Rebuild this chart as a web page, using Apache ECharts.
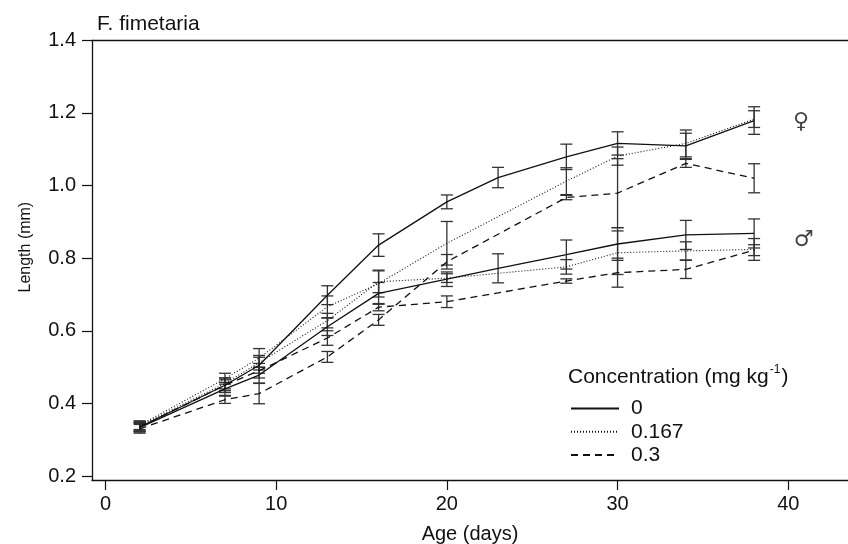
<!DOCTYPE html>
<html>
<head>
<meta charset="utf-8">
<script src="https://cdn.jsdelivr.net/npm/echarts@6/dist/echarts.min.js"></script>
<style>html,body{margin:0;padding:0;background:#fff}#c{width:848px;height:544px}</style>
</head>
<body>
<div id="c"></div>
<script>
// ---- data ----
const ages = [2, 7, 9, 13, 16, 20, 23, 27, 30, 34, 38];
// females
const f0      = [0.335, 0.45, 0.505, 0.698, 0.836, 0.955, 1.022, 1.079, 1.116, 1.109, 1.179];
const f0Err   = [0.012, 0.02, 0.022, 0.026, 0.031, 0.019, 0.028, 0.035, 0.032, 0.035, 0.038];
const f167    = [0.34, 0.468, 0.525, 0.666, 0.73, 0.841, null, 1.012, 1.081, 1.116, 1.183];
const f167Err = [0.012, 0.015, 0.026, 0.03, 0.037, 0.06, null, 0.037, 0.025, 0.037, 0.023];
const f3      = [0.33, 0.41, 0.427, 0.528, 0.63, 0.79, null, 0.967, 0.979, 1.061, 1.02];
const f3Err   = [0.012, 0.01, 0.028, 0.015, 0.015, 0.02, null, 0.006, 0.095, 0.011, 0.04];
// males
const m0      = [0.333, 0.44, 0.478, 0.611, 0.703, 0.742, 0.772, 0.81, 0.839, 0.864, 0.868];
const m0Err   = [0.012, 0.018, 0.022, 0.024, 0.03, 0.02, 0.04, 0.04, 0.045, 0.04, 0.04];
const m167    = [0.338, 0.455, 0.512, 0.628, 0.735, 0.745, null, 0.776, 0.815, 0.82, 0.824];
const m167Err = [0.012, 0.015, 0.02, 0.02, 0.03, 0.012, null, 0.02, 0.06, 0.025, 0.03];
const m3      = [0.335, 0.45, 0.49, 0.58, 0.665, 0.68, null, 0.737, 0.76, 0.769, 0.822];
const m3Err   = [0.012, 0.015, 0.02, 0.02, 0.01, 0.016, null, 0.006, 0.04, 0.025, 0.015];

const concentrations = ['0', '0.167', '0.3'];
const xTicks = [0, 10, 20, 30, 40];
const yTicks = [0.2, 0.4, 0.6, 0.8, 1.0, 1.2, 1.4];
const sexSymbols = ['♀', '♂'];
const sexX = [40.75, 40.9];
const sexY = [1.175, 0.85];

// ---- build chart ----
const FONT = 'Liberation Sans, Arial, Helvetica, sans-serif';
const INK = '#111';
const styles = {
  '0':     { type: 'solid', width: 1.3 },
  '0.167': { type: [1, 2], width: 1.1 },
  '0.3':   { type: [7, 5], width: 1.3 }
};

function pairs(vals) {
  const out = [];
  ages.forEach((a, i) => { if (vals[i] != null) out.push([a, vals[i]]); });
  return out;
}
function triples(vals, errs) {
  const out = [];
  ages.forEach((a, i) => { if (vals[i] != null) out.push([a, vals[i], errs[i]]); });
  return out;
}

function errorBarRender(params, api) {
  const x = api.value(0), v = api.value(1), e = api.value(2);
  const t = api.coord([x, v + e]);
  const b = api.coord([x, v - e]);
  const hw = 6;
  const st = { stroke: '#333', lineWidth: 1.3 };
  return {
    type: 'group',
    children: [
      { type: 'line', shape: { x1: t[0], y1: t[1], x2: b[0], y2: b[1] }, style: st },
      { type: 'line', shape: { x1: t[0] - hw, y1: t[1], x2: t[0] + hw, y2: t[1] }, style: st },
      { type: 'line', shape: { x1: b[0] - hw, y1: b[1], x2: b[0] + hw, y2: b[1] }, style: st }
    ]
  };
}

const groups = [
  { name: '0', v: f0, e: f0Err }, { name: '0.167', v: f167, e: f167Err }, { name: '0.3', v: f3, e: f3Err },
  { name: '0', v: m0, e: m0Err }, { name: '0.167', v: m167, e: m167Err }, { name: '0.3', v: m3, e: m3Err }
];

const series = [];
groups.forEach(g => {
  series.push({
    type: 'custom', renderItem: errorBarRender, data: triples(g.v, g.e),
    encode: { x: 0, y: [1] }, silent: true, z: 2
  });
});
groups.forEach(g => {
  series.push({
    type: 'line', name: g.name, data: pairs(g.v), symbol: 'none',
    lineStyle: { color: INK, type: styles[g.name].type, width: styles[g.name].width },
    itemStyle: { color: INK }, z: 3, animation: false
  });
});
series.push({
  type: 'scatter', symbolSize: 1, itemStyle: { color: 'rgba(0,0,0,0)' },
  data: sexSymbols.map((s, i) => ({ value: [sexX[i], sexY[i]], name: s })),
  label: { show: true, position: 'inside', formatter: p => p.name, fontSize: 22, color: INK, fontFamily: 'DejaVu Sans' },
  silent: true
});

const option = {
  animation: false,
  backgroundColor: '#fff',
  title: [
    { text: 'F. fimetaria', left: 92, top: 9, textStyle: { fontFamily: FONT, fontSize: 21, fontWeight: 'normal', color: INK } },
    {
      text: '{a|Concentration (mg kg}{s|-1}{a|)}', left: 563, top: 359,
      textStyle: {
        rich: {
          a: { fontFamily: FONT, fontSize: 21, fontWeight: 'normal', color: INK, lineHeight: 24, verticalAlign: 'bottom' },
          s: { fontFamily: FONT, fontSize: 12, fontWeight: 'normal', color: INK, lineHeight: 24, verticalAlign: 'top', padding: [0, 1, 0, 1] }
        }
      }
    }
  ],
  legend: {
    data: concentrations, orient: 'vertical', left: 565, top: 393,
    itemWidth: 48, itemHeight: 14, itemGap: 2.3,
    itemStyle: { opacity: 0 },
    textStyle: { fontFamily: FONT, fontSize: 21, color: INK, lineHeight: 20, padding: [0, 0, 0, 7] },
    selectedMode: false
  },
  grid: { left: 92, right: 0, top: 40.3, bottom: 64, outerBoundsMode: 'none', containLabel: false },
  xAxis: [{
    type: 'value', min: -0.79, max: 43.5,
    name: 'Age (days)', nameLocation: 'middle', nameGap: 44,
    nameTextStyle: { fontFamily: FONT, fontSize: 20, color: INK },
    axisLine: { show: true, onZero: false, lineStyle: { color: INK, width: 1.3 } },
    axisTick: { show: true, inside: false, length: 10, customValues: xTicks, lineStyle: { color: INK, width: 1.2 } },
    axisLabel: { customValues: xTicks, margin: 14, fontFamily: FONT, fontSize: 20, color: INK },
    splitLine: { show: false }
  }, {
    type: 'value', position: 'top', min: -0.79, max: 43.5,
    axisLine: { show: true, onZero: false, lineStyle: { color: INK, width: 1.3 } },
    axisTick: { show: false }, axisLabel: { show: false }, splitLine: { show: false }
  }],
  yAxis: {
    type: 'value', min: 0.189, max: 1.4,
    name: 'Length (mm)', nameLocation: 'middle', nameGap: 58,
    nameTextStyle: { fontFamily: FONT, fontSize: 16, color: INK, padding: [0, 0, 0, 26] },
    axisLine: { show: true, onZero: false, lineStyle: { color: INK, width: 1.3 } },
    axisTick: { show: true, inside: false, length: 10, customValues: yTicks, lineStyle: { color: INK, width: 1.2 } },
    axisLabel: { customValues: yTicks, margin: 16, fontFamily: FONT, fontSize: 20, color: INK, formatter: v => v.toFixed(1) },
    splitLine: { show: false }
  },
  series: series
};

const chart = echarts.init(document.getElementById('c'), null, { renderer: 'canvas' });
chart.setOption(option);
</script>
</body>
</html>
